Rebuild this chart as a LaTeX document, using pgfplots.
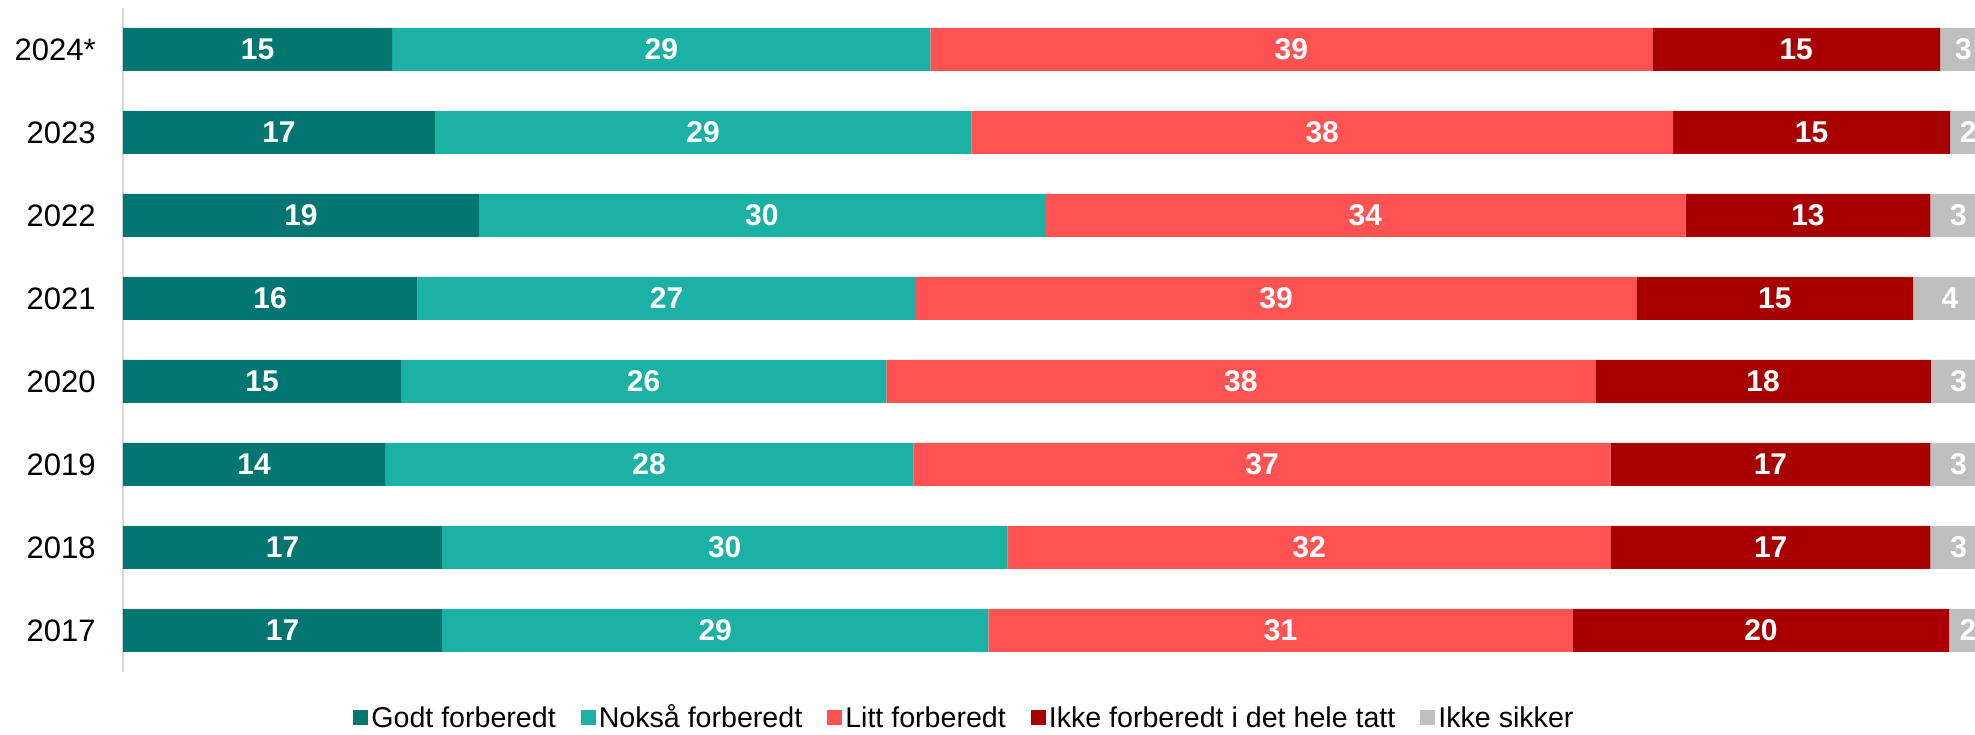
\documentclass[border=0pt]{standalone}
\usepackage{pgfplots}
\usepackage{pgfplotstable}
\pgfplotsset{compat=1.18}
\usepackage{fontspec}
\setmainfont{Liberation Sans}
\usetikzlibrary{calc}

\definecolor{cGodt}{HTML}{037672}
\definecolor{cNoksa}{HTML}{1BB2A5}
\definecolor{cLitt}{HTML}{FF5252}
\definecolor{cIkke}{HTML}{A80000}
\definecolor{cUsik}{HTML}{BFBFBF}

\pgfplotstableread{
y w lab
7 14.44 15
6 16.74 17
5 19.10 19
4 15.79 16
3 14.92 15
2 14.06 14
1 17.12 17
0 17.12 17
}\godt
\pgfplotstableread{
y w lab
7 28.89 29
6 28.78 29
5 30.37 30
4 26.75 27
3 26.04 26
2 28.35 28
1 30.34 30
0 29.32 29
}\noksa
\pgfplotstableread{
y w lab
7 38.73 39
6 37.66 38
5 34.38 34
4 38.67 39
3 38.05 38
2 37.42 37
1 32.38 32
0 31.36 31
}\litt
\pgfplotstableread{
y w lab
7 15.45 15
6 14.86 15
5 13.13 13
4 14.85 15
3 18.00 18
2 17.15 17
1 17.15 17
0 20.19 20
}\ikke
\pgfplotstableread{
y w lab
7 2.50 3
6 1.96 2
5 3.02 3
4 3.94 4
3 2.99 3
2 3.02 3
1 3.02 3
0 2.01 2
}\usikker

\begin{document}
\begin{tikzpicture}
\begin{axis}[
  name=ax,
  at={(0,0)}, anchor=south west,
  scale only axis,
  width=926pt, height=332pt,
  clip=false,
  xbar stacked,
  bar width=21.5pt,
  xmin=0, xmax=99.38,
  ymin=-0.5, ymax=7.5,
  hide x axis,
  axis y line*=left,
  y axis line style={draw=black!15, line width=0.8pt},
  ytick={0,...,7},
  yticklabels={2017,2018,2019,2020,2021,2022,2023,2024*},
  major tick length=0pt,
  ytick style={draw=none},
  yticklabel style={font=\fontsize{15.5}{18}\selectfont, inner sep=0pt, xshift=-13.5pt, anchor=east},
  point meta=explicit symbolic,
  nodes near coords,
  every node near coord/.append style={
    anchor=center, text=white,
    font=\fontsize{15}{18}\selectfont\bfseries},
  legend columns=5,
  legend style={
    at={(axis description cs:0.4546,-0.068)}, anchor=center,
    draw=none, fill=none,
    font=\fontsize{14.3}{17}\selectfont,
    /tikz/every even column/.append style={column sep=11pt},
    nodes={inner xsep=1.5pt, inner ysep=0pt, text height=10.5pt, text depth=0pt},
  },
  legend image code/.code={\draw[#1,draw=none] (0pt,-4pt) rectangle (7.5pt,3.5pt);},
]
\addplot[fill=cGodt, draw=none] table[x=w, y=y, meta=lab] {\godt};
\addplot[fill=cNoksa, draw=none] table[x=w, y=y, meta=lab] {\noksa};
\addplot[fill=cLitt, draw=none] table[x=w, y=y, meta=lab] {\litt};
\addplot[fill=cIkke, draw=none] table[x=w, y=y, meta=lab] {\ikke};
\addplot[fill=cUsik, draw=none] table[x=w, y=y, meta=lab] {\usikker};
\legend{Godt forberedt, Nokså forberedt, Litt forberedt, Ikke forberedt i det hele tatt, Ikke sikker}
\end{axis}
\pgfresetboundingbox
\path[use as bounding box] ($(ax.south west)+(-61.5pt,-31.5pt)$) rectangle ($(ax.north east)+(0pt,4pt)$);
\end{tikzpicture}
\end{document}
